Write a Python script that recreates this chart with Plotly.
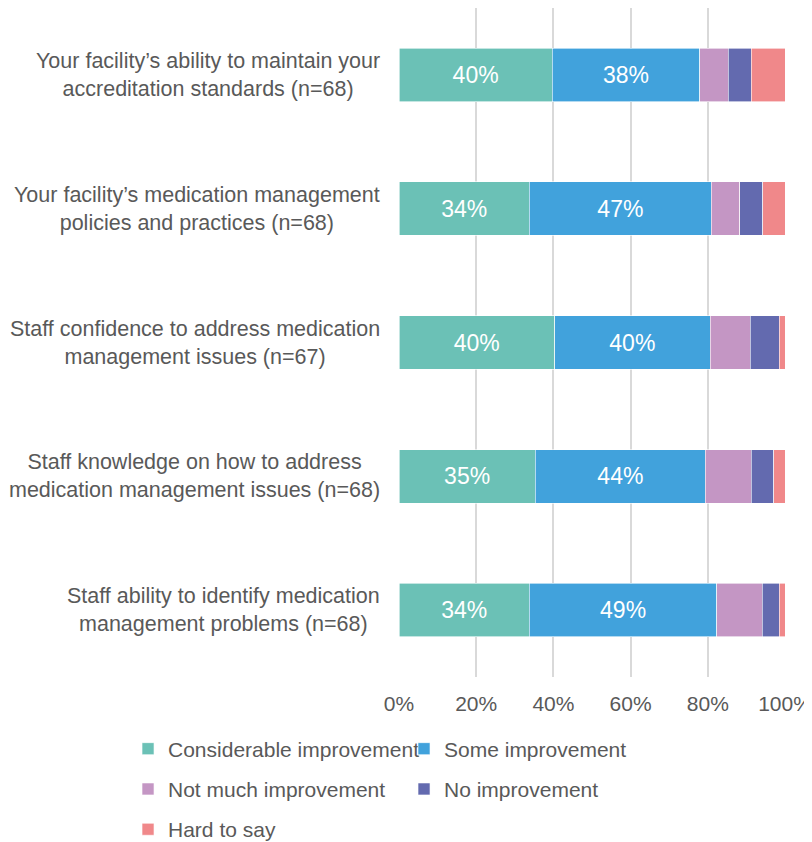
import plotly.graph_objects as go

questions = [
    "Your facility’s ability to maintain your<br>accreditation standards (n=68)",
    "Your facility’s medication management<br>policies and practices (n=68)",
    "Staff confidence to address medication<br>management issues (n=67)",
    "Staff knowledge on how to address<br>medication management issues (n=68)",
    "Staff ability to identify medication<br>management problems (n=68)",
]

# shares in percent
considerable = [39.7, 33.8, 40.3, 35.3, 33.8]
some = [38.2, 47.1, 40.3, 44.1, 48.5]
not_much = [7.4, 7.4, 10.4, 11.8, 11.8]
no_impr = [5.9, 5.9, 7.5, 5.9, 4.4]
hard = [8.8, 5.9, 1.5, 2.9, 1.5]

# (name, values, colour, show value labels, legend column, rank)
series = [
    ("Considerable improvement", considerable, "#6BC1B6", True, "legend", 1),
    ("Some improvement", some, "#41A2DC", True, "legend2", 1),
    ("Not much improvement", not_much, "#C496C4", False, "legend", 2),
    ("No improvement", no_impr, "#636AAF", False, "legend2", 2),
    ("Hard to say", hard, "#F0888A", False, "legend", 3),
]

FONT = "Liberation Sans, Arial, sans-serif"
GREY = "#595959"

fig = go.Figure()
for name, vals, color, labelled, leg, rank in series:
    fig.add_trace(go.Bar(
        y=questions,
        x=[v / 100 for v in vals],
        name=name,
        orientation="h",
        marker=dict(color=color, line=dict(color="white", width=0.6)),
        text=[f"{int(v + 0.5)}%" for v in vals] if labelled else None,
        textposition="inside" if labelled else "none",
        insidetextanchor="middle",
        textangle=0,
        textfont=dict(family=FONT, size=23, color="white"),
        constraintext="none",
        legend=leg,
        legendgroup=name,
        legendrank=rank,
        hoverinfo="name+x",
    ))

# category labels as centred annotations
for q in questions:
    fig.add_annotation(
        x=-0.044, xref="paper", y=q, yref="y",
        text=q, showarrow=False, xanchor="right", align="center",
        font=dict(family=FONT, size=21.5, color=GREY),
    )

legend_common = dict(
    orientation="v", xanchor="left", yanchor="top",
    y=-0.077, traceorder="grouped", tracegroupgap=10,
    font=dict(family=FONT, size=21, color=GREY),
    bgcolor="rgba(0,0,0,0)", itemclick=False, itemdoubleclick=False,
)

# page body adds an 8px margin, so the figure is 8px smaller each way
fig.update_layout(
    width=804, height=834,
    margin=dict(l=391, r=27, t=0, b=165, autoexpand=False),
    barmode="stack", bargap=0.6,
    plot_bgcolor="white", paper_bgcolor="white",
    font=dict(family=FONT, color=GREY),
    legend=dict(legend_common, x=-0.702),
    legend2=dict(legend_common, x=0.013),
    showlegend=True,
)
fig.update_xaxes(
    range=[0, 1], tickvals=[0, 0.2, 0.4, 0.6, 0.8, 1.0], tickformat=".0%",
    showgrid=True, gridcolor="#D9D9D9", gridwidth=2, zeroline=False,
    tickfont=dict(family=FONT, size=21, color=GREY), ticklabelstandoff=12,
    showline=False,
)
fig.update_yaxes(
    autorange="reversed", showticklabels=False, showgrid=False,
    zeroline=False, showline=False,
)

fig.write_html("out.html")
